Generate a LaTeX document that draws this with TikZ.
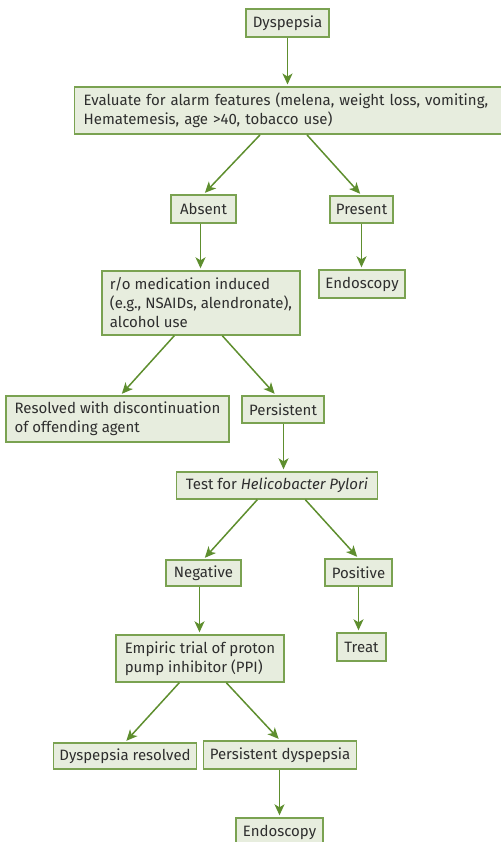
\documentclass[tikz,border=0pt]{standalone}
\usepackage{fontspec}
\setmainfont{Fira Sans}
\usetikzlibrary{arrows.meta,positioning}
\definecolor{cfill}{HTML}{E7EDDE}
\definecolor{cedge}{HTML}{7AA251}
\definecolor{carrow}{HTML}{5E8E2E}
\definecolor{ctext}{HTML}{2E2E2E}

\begin{document}
\begin{tikzpicture}[
    x=1pt, y=-1pt,
    box/.style={draw=cedge, fill=cfill, line width=1.4pt, text=ctext,
                font=\fontsize{15}{19}\selectfont, inner xsep=6pt, inner ysep=0pt,
                minimum height=27pt},
    lbox/.style={box, align=left},
    arr/.style={-{Stealth[length=11pt, width=10pt, inset=3pt]}, carrow,
                line width=1.5pt, shorten >=2pt},
]
\useasboundingbox (0,0) rectangle (500,842);

% === Alarm features ===
\node[box, minimum width=83pt, minimum height=28pt] (dys) at (287.5,23) {Dyspepsia};
\node[lbox, anchor=north west, text width=440pt, inner xsep=9pt, minimum height=47pt]
    (eval) at (74,86.5)
    {Evaluate for alarm features (melena, weight loss, vomiting,\\Hematemesis, age >40, tobacco use)};
\node[box, minimum width=65pt, minimum height=28pt] (absent) at (203.5,209) {Absent};
\node[box, minimum width=61pt] (present) at (361.5,209.5) {Present};
\node[box, minimum width=86pt, minimum height=28pt] (endo1) at (362,284) {Endoscopy};

% === Medication ===
\node[lbox, minimum width=198pt, minimum height=64pt] (meds) at (201,303)
    {r/o medication induced\\(e.g., NSAIDs, alendronate),\\alcohol use};
\node[lbox, minimum width=223pt, minimum height=46pt] (resolved) at (117.5,419)
    {Resolved with discontinuation\\of offending agent};
\node[box, minimum width=82pt] (persist) at (283,409.5) {Persistent};

% === H. pylori ===
\node[box, minimum width=201pt] (hpylori) at (277,485.5) {Test for \textit{Helicobacter Pylori}};
\node[box, minimum width=75pt, minimum height=26pt] (neg) at (203.5,573) {Negative};
\node[box, minimum width=67pt] (pos) at (358.5,572.5) {Positive};
\node[box, minimum width=49pt, minimum height=28pt] (treat) at (361.5,647) {Treat};

% === PPI trial ===
\node[lbox, minimum width=168pt, minimum height=47pt] (ppi) at (200,658.5)
    {Empiric trial of proton\\pump inhibitor (PPI)};
\node[box, minimum width=142pt, minimum height=26pt] (dysres) at (125,756) {Dyspepsia resolved};
\node[box, minimum width=150pt, minimum height=28pt] (persdys) at (280,755) {Persistent dyspepsia};
\node[box, minimum width=87pt, minimum height=28pt] (endo2) at (279.5,832) {Endoscopy};

% === Arrows ===
\draw[arr] (dys.south) -- (dys.south |- eval.north);
\draw[arr] ([xshift=186pt]eval.south west) -- (absent.north);
\draw[arr] ([xshift=233pt]eval.south west) -- (present.north);
\draw[arr] ([xshift=-0.5pt]absent.south -| meds.north) -- ([xshift=-0.5pt]meds.north);
\draw[arr] (present.south) -- (present.south |- endo1.north);

\draw[arr] ([xshift=73pt]meds.south west) -- ([xshift=3pt]resolved.north);
\draw[arr] ([xshift=121pt]meds.south west) -- ([xshift=-7pt]persist.north);
\draw[arr] ([xshift=0.5pt]persist.south) -- ([xshift=0.5pt]persist.south |- hpylori.north);

\draw[arr] ([xshift=81.5pt]hpylori.south west) -- (neg.north);
\draw[arr] ([xshift=129.5pt]hpylori.south west) -- (pos.north);
\draw[arr] ([xshift=-0.5pt]neg.south -| ppi.north) -- ([xshift=-0.5pt]ppi.north);
\draw[arr] (pos.south) -- (pos.south |- treat.north);

\draw[arr] ([xshift=64pt]ppi.south west) -- (dysres.north);
\draw[arr] ([xshift=111pt]ppi.south west) -- (persdys.north);
\draw[arr] ([xshift=-0.5pt]persdys.south) -- ([xshift=-0.5pt]persdys.south |- endo2.north);

\end{tikzpicture}
\end{document}
